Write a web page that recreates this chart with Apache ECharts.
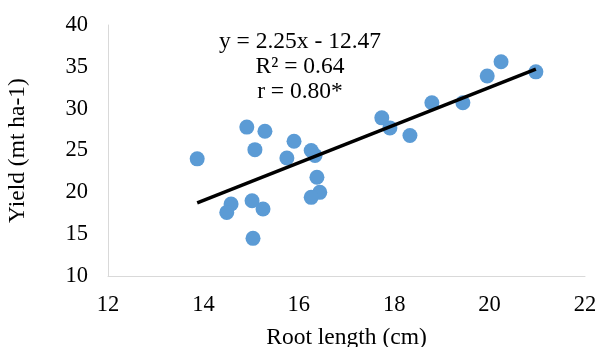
<!DOCTYPE html>
<html>
<head>
<meta charset="utf-8">
<script src="https://cdn.jsdelivr.net/npm/echarts@6/dist/echarts.min.js"></script>
<style>
  html, body { margin: 0; padding: 0; background: #fff; }
  #chart { width: 598px; height: 347px; }
</style>
</head>
<body>
<div id="chart"></div>
<script>
// root length (cm) vs yield
const rootLength = [13.87, 14.91, 15.29, 15.08, 15.75, 15.90, 16.26, 16.34, 16.38, 16.44,
  16.26, 14.58, 14.49, 15.02, 15.25, 15.04, 17.74, 17.91, 18.33, 18.79, 19.44, 19.95, 20.24, 20.97];
const yieldVals = [24.0, 27.8, 27.3, 25.1, 24.1, 26.1, 25.0, 24.4, 21.8, 20.0,
  19.4, 18.6, 17.6, 19.0, 18.0, 14.5, 28.9, 27.7, 26.8, 30.7, 30.7, 33.9, 35.6, 34.4];
const slope = 2.25;
const intercept = -12.47;
const trendX = [13.87, 20.97];
const eqLines = ["y = 2.25x - 12.47", "R² = 0.64", "r = 0.80*"];

const points = rootLength.map((x, i) => [x, yieldVals[i]]);
const trend = trendX.map(x => [x, slope * x + intercept]);

const font = "Liberation Serif";
const chart = echarts.init(document.getElementById("chart"));
const option = {
  animation: false,
  grid: { left: 108, right: 13, top: 25, bottom: 71, containLabel: false, outerBoundsMode: "none" },
  xAxis: {
    type: "value", min: 12, max: 22, interval: 2,
    name: "Root length (cm)", nameLocation: "middle", nameGap: 50,
    nameTextStyle: { fontFamily: font, fontSize: 23.5, color: "#000" },
    axisLine: { show: true, lineStyle: { color: "#d9d9d9", width: 1 } },
    axisTick: { show: false },
    splitLine: { show: false },
    axisLabel: { fontFamily: font, fontSize: 22.5, color: "#000", margin: 18 }
  },
  yAxis: {
    type: "value", min: 10, max: 40, interval: 5,
    name: "Yield (mt ha-1)", nameLocation: "middle", nameGap: 78,
    nameTextStyle: { fontFamily: font, fontSize: 23.5, color: "#000" },
    axisLine: { show: true, lineStyle: { color: "#d9d9d9", width: 1 } },
    axisTick: { show: false },
    splitLine: { show: false },
    axisLabel: { fontFamily: font, fontSize: 22.5, color: "#000", margin: 20 }
  },
  graphic: eqLines.map((t, i) => ({
    type: "text", x: 300, y: 42 + i * 25,
    style: { text: t, fontFamily: font, fontSize: 23.5, fill: "#000",
      align: "center", verticalAlign: "middle" }
  })),
  series: [
    {
      type: "scatter", data: points, symbolSize: 15,
      itemStyle: { color: "#5b9bd5", opacity: 1 }
    },
    {
      type: "line", data: trend, symbol: "none",
      lineStyle: { color: "#000", width: 3.5 }
    }
  ]
};
chart.setOption(option);
</script>
</body>
</html>
